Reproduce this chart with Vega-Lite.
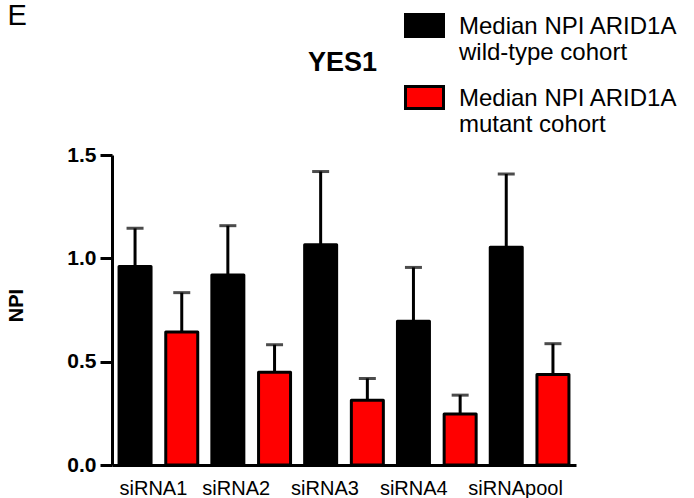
{
  "$schema": "https://vega.github.io/schema/vega-lite/v6.json",
  "width": 464,
  "height": 310,
  "autosize": {"type": "none"},
  "padding": {"left": 112, "top": 155, "right": 118, "bottom": 33},
  "background": "white",
  "config": {
    "view": {"stroke": null},
    "font": "Liberation Sans",
    "axis": {"grid": false}
  },
  "data": {
    "values": [
      {"siRNA": "siRNA1", "cohort": "wt", "npi": 0.96, "upper": 1.145},
      {"siRNA": "siRNA1", "cohort": "mut", "npi": 0.643, "upper": 0.834},
      {"siRNA": "siRNA2", "cohort": "wt", "npi": 0.919, "upper": 1.158},
      {"siRNA": "siRNA2", "cohort": "mut", "npi": 0.449, "upper": 0.582},
      {"siRNA": "siRNA3", "cohort": "wt", "npi": 1.066, "upper": 1.42},
      {"siRNA": "siRNA3", "cohort": "mut", "npi": 0.313, "upper": 0.419},
      {"siRNA": "siRNA4", "cohort": "wt", "npi": 0.696, "upper": 0.956},
      {"siRNA": "siRNA4", "cohort": "mut", "npi": 0.247, "upper": 0.338},
      {"siRNA": "siRNApool", "cohort": "wt", "npi": 1.054, "upper": 1.408},
      {"siRNA": "siRNApool", "cohort": "mut", "npi": 0.438, "upper": 0.587}
    ]
  },
  "encoding": {
    "x": {
      "field": "siRNA",
      "type": "nominal",
      "sort": null,
      "scale": {"paddingInner": 0, "paddingOuter": 0}
    },
    "xOffset": {
      "field": "cohort",
      "type": "nominal",
      "sort": ["wt", "mut"],
      "scale": {"paddingInner": 0.315, "paddingOuter": 0.151}
    }
  },
  "layer": [
    {
      "mark": {"type": "rule", "strokeWidth": 3, "color": "black"},
      "encoding": {
        "x": {"field": "siRNA", "type": "nominal", "sort": null, "axis": null},
        "y": {
          "field": "npi",
          "type": "quantitative",
          "axis": {
            "orient": "right",
            "labels": false,
            "ticks": false,
            "domain": false,
            "title": "E",
            "titleAngle": 0,
            "titleX": -569,
            "titleY": -131,
            "titleAlign": "left",
            "titleBaseline": "alphabetic",
            "titleFont": "Liberation Sans",
            "titleFontSize": 29,
            "titleFontWeight": "normal",
            "titleColor": "black"
          }
        },
        "y2": {"field": "upper"}
      }
    },
    {
      "mark": {"type": "bar", "stroke": "black", "strokeWidth": 3, "strokeJoin": "round"},
      "encoding": {
        "x": {
          "field": "siRNA",
          "type": "nominal",
          "sort": null,
          "axis": {
            "orient": "bottom",
            "title": null,
            "labelAngle": 0,
            "ticks": false,
            "domainColor": "black",
            "domainWidth": 3,
            "labelFont": "Liberation Sans",
            "labelFontSize": 20,
            "labelColor": "black",
            "labelPadding": 13,
            "labelOffset": {
              "condition": [
                {"test": "datum.value == 'siRNA1'", "value": -5},
                {"test": "datum.value == 'siRNA2'", "value": -15},
                {"test": "datum.value == 'siRNA3'", "value": -19},
                {"test": "datum.value == 'siRNA4'", "value": -23}
              ],
              "value": -14
            },
            "labelBaseline": "top"
          }
        },
        "y": {
          "field": "npi",
          "type": "quantitative",
          "scale": {"domain": [0, 1.5], "nice": false, "zero": true},
          "axis": {
            "orient": "left",
            "values": [0, 0.5, 1, 1.5],
            "format": ".1f",
            "domainColor": "black",
            "domainWidth": 3,
            "tickColor": "black",
            "tickWidth": 3,
            "tickSize": 12,
            "labelFont": "Liberation Sans",
            "labelFontSize": 21,
            "labelFontWeight": "bold",
            "labelColor": "black",
            "labelPadding": 4,
            "title": "NPI",
            "titleFont": "Liberation Sans",
            "titleFontSize": 20,
            "titleFontWeight": "bold",
            "titleColor": "black",
            "titleAngle": -90,
            "titleX": -90,
            "titleY": 150,
            "titleAlign": "center",
            "titleBaseline": "alphabetic"
          }
        },
        "color": {
          "field": "cohort",
          "type": "nominal",
          "scale": {"domain": ["wt", "mut"], "range": ["#000000", "#ff0000"]},
          "legend": {
            "orient": "none",
            "legendX": 292,
            "legendY": -142,
            "title": null,
            "padding": 0,
            "symbolType": "M-1,-1H1V0.16H-1Z",
            "symbolSize": 1444,
            "symbolStrokeColor": "black",
            "symbolStrokeWidth": 3,
            "symbolOpacity": 1,
            "labelExpr": "datum.value == 'wt' ? ['Median NPI ARID1A', 'wild-type cohort'] : ['Median NPI ARID1A', 'mutant cohort']",
            "labelFont": "Liberation Sans",
            "labelFontSize": 24,
            "labelColor": "black",
            "labelBaseline": "alphabetic",
            "labelLimit": 0,
            "labelOffset": 14,
            "rowPadding": 15
          }
        }
      }
    },
    {
      "mark": {"type": "tick", "thickness": 3, "size": 17, "color": "black", "orient": "horizontal"},
      "encoding": {
        "x": {
          "field": "siRNA",
          "type": "nominal",
          "sort": null,
          "axis": {
            "orient": "top",
            "labels": false,
            "ticks": false,
            "domain": false,
            "title": "YES1",
            "titleX": 230,
            "titleY": -85,
            "titleAlign": "center",
            "titleBaseline": "alphabetic",
            "titleFont": "Liberation Sans",
            "titleFontSize": 27,
            "titleFontWeight": "bold",
            "titleColor": "black"
          }
        },
        "y": {"field": "upper", "type": "quantitative", "axis": null}
      }
    }
  ],
  "resolve": {"axis": {"x": "independent", "y": "independent"}}
}
